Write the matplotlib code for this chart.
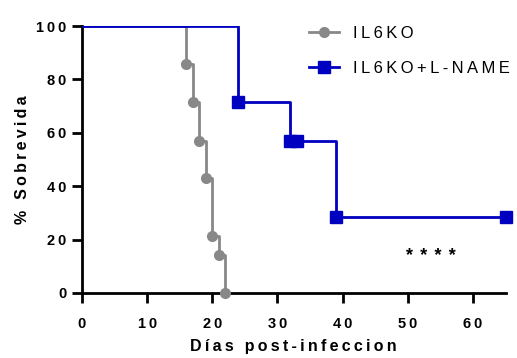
import matplotlib
matplotlib.use("Agg")
import matplotlib.pyplot as plt
from matplotlib.lines import Line2D

plt.rcParams['font.family'] = ['Liberation Sans', 'DejaVu Sans']

# Kaplan-Meier data (days, % survival)
ko_days = [0, 16, 17, 18, 19, 20, 21, 22]
ko_surv = [100, 85.7, 71.4, 57.1, 42.9, 21.4, 14.3, 0]
ko_marks_x = [16, 17, 18, 19, 20, 21, 22]
ko_marks_y = [85.7, 71.4, 57.1, 42.9, 21.4, 14.3, 0]

ln_days = [0, 24, 32, 39, 65]
ln_surv = [100, 71.4, 57.1, 28.6, 28.6]
ln_marks_x = [24, 32, 33, 39, 65]
ln_marks_y = [71.4, 57.1, 57.1, 28.6, 28.6]

xticks = [0, 10, 20, 30, 40, 50, 60]
yticks = [0, 20, 40, 60, 80, 100]

gray = '#888888'
blue = '#0000C0'
S = '\u2009'

def spaced(s):
    return S.join(s)

fig = plt.figure(figsize=(5.17, 3.58), dpi=100)
ax = fig.add_axes([82/517, 1-293/358, (505.5-82)/517, (293-26)/358])

ax.step(ko_days, ko_surv, where='post', color=gray, lw=2, zorder=2)
ax.plot(ko_marks_x, ko_marks_y, 'o', color=gray, ms=7, clip_on=False, zorder=3)
ax.step(ln_days, ln_surv, where='post', color=blue, lw=2, zorder=4)
ax.plot(ln_marks_x, ln_marks_y, 's', color=blue, ms=8, clip_on=False, zorder=5)

ax.set_xlim(0, 65)
ax.set_ylim(0, 100)
for s in ['top', 'right']:
    ax.spines[s].set_visible(False)
for s in ['left', 'bottom']:
    ax.spines[s].set_linewidth(2)
ax.set_xticks(xticks)
ax.set_yticks(yticks)
ax.set_xticklabels([spaced(str(t)) for t in xticks], fontweight='bold', fontsize=10.5)
ax.set_yticklabels([spaced(str(t)) for t in yticks], fontweight='bold', fontsize=10.5)
ax.tick_params(direction='out', length=7, width=2)
ax.tick_params(axis='x', pad=10)
ax.tick_params(axis='y', pad=4)

ax.set_xlabel(spaced('Días post-infeccion'), fontweight='bold', fontsize=11.5, labelpad=6)
ax.set_ylabel(spaced('% Sobrevida'), fontweight='bold', fontsize=11.5, labelpad=5)

ax.text(53.5, 13.5, S.join(['*'] * 4).replace(S, S + S), fontsize=13, fontweight='bold',
        ha='center', va='center')

handles = [Line2D([], [], color=gray, lw=2, marker='o', ms=7),
           Line2D([], [], color=blue, lw=2, marker='s', ms=8)]
labels = [spaced('IL6KO'), spaced('IL6KO+L-NAME')]
leg = fig.legend(handles, labels, loc='upper left', bbox_to_anchor=(309/517, 1-26/358),
                 frameon=False, handlelength=1.8, labelspacing=1.2, handletextpad=0.85,
                 borderpad=0, borderaxespad=0, prop={'size': 12})

fig.savefig('out.png', dpi=100)
